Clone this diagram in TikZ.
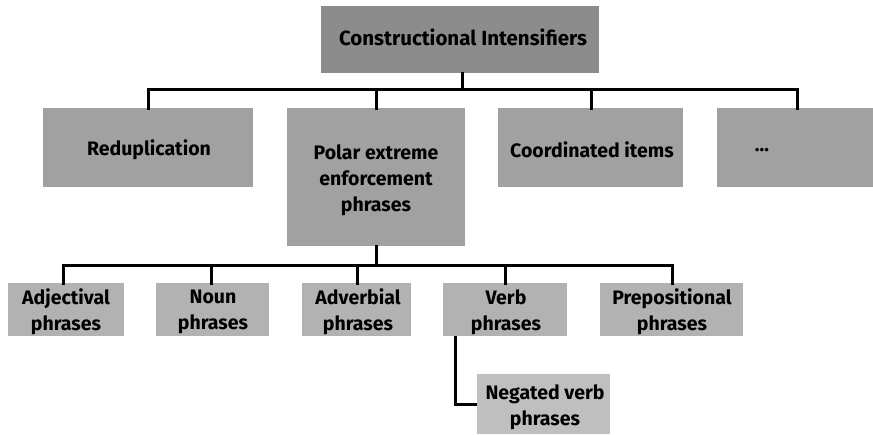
\documentclass[tikz,border=0pt]{standalone}
\usepackage{fontspec}
\setmainfont{Fira Sans}
\begin{document}
\begin{tikzpicture}[x=1pt,y=-1pt,
  box/.style={draw=none,inner sep=0pt,align=center,font=\fontsize{19.5}{26}\selectfont\bfseries},
  link/.style={line width=3pt,line cap=rect}]
\useasboundingbox (0,0) rectangle (873,434);

% top level
\fill[black!45] (321,6) rectangle (599,73);
\node[box,font=\fontsize{20.5}{26}\selectfont\bfseries] (ci) at (463,37) {Constructional Intensifiers};

% second level
\fill[black!37] (43,108) rectangle (253,187);
\node[box] (red) at (149,150) {Reduplication};
\fill[black!37] (287,108) rectangle (465,246);
\node[box] (pol) at (376,180) {Polar extreme\\enforcement\\phrases};
\fill[black!37] (498,108) rectangle (683,187);
\node[box] (coo) at (592,150) {Coordinated items};
\fill[black!37] (717,108) rectangle (873,187);
\node[box] (dots) at (762,150) {...};

% third level
\fill[black!30] (8,283) rectangle (124,336);
\node[box] (adj) at (66,312) {Adjectival\\phrases};
\fill[black!30] (156,283) rectangle (269,336);
\node[box] (nou) at (213,312) {Noun\\phrases};
\fill[black!30] (302,283) rectangle (411,336);
\node[box] (adv) at (358,312) {Adverbial\\phrases};
\fill[black!30] (443,283) rectangle (567,336);
\node[box] (ver) at (506,312) {Verb\\phrases};
\fill[black!30] (600,283) rectangle (743,336);
\node[box] (pre) at (672,312) {Prepositional\\phrases};

% fourth level
\fill[black!25] (477,374) rectangle (610,434);
\node[box] (neg) at (545,407) {Negated verb\\phrases};

% connectors
\coordinate (ciS) at (462,73);
\coordinate (ciB) at (462,89);
\draw[link] (ciS) -- (ciB);
\draw[link] (148,108) -- (148,89) -- (797,89) -- (797,108);
\draw[link] (376,89) -- (376,108);
\draw[link] (591,89) -- (591,108);
\draw[link] (376,246) -- (376,265);
\draw[link] (63,283) -- (63,265) -- (672,265) -- (672,283);
\draw[link] (211,265) -- (211,283);
\draw[link] (357,265) -- (357,283);
\draw[link] (505,265) -- (505,283);
\draw[link,line cap=butt] (455,336) -- (455,404) -- (477,404);
\end{tikzpicture}
\end{document}
